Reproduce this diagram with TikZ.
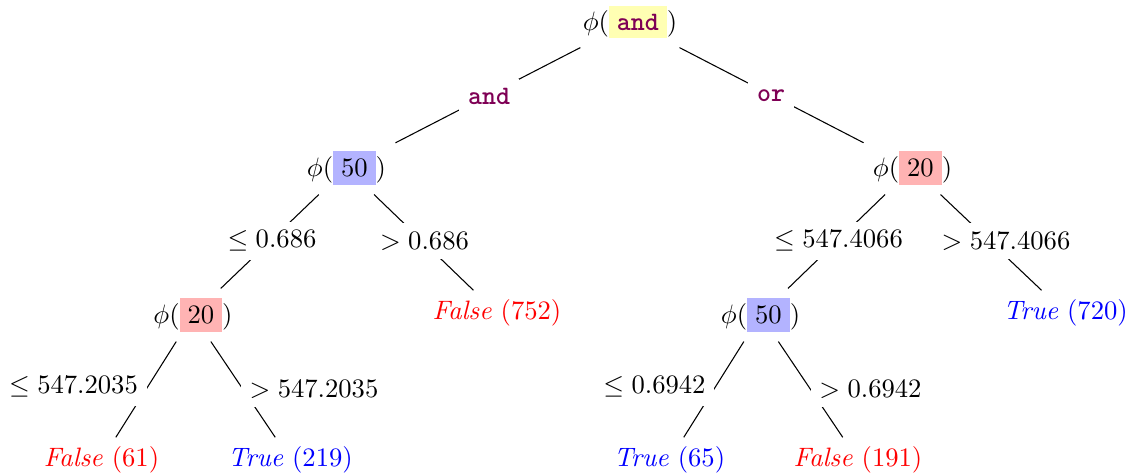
\documentclass[tikz,border=0pt]{standalone}
\definecolor{kwcol}{RGB}{127,0,85}
\definecolor{hlyellow}{RGB}{255,255,179}
\definecolor{hlblue}{RGB}{179,179,255}
\definecolor{hlred}{RGB}{255,179,179}
\newcommand{\kwd}[1]{{\color{kwcol}\ttfamily\bfseries #1}}
\newcommand{\phibox}[2]{$\phi($\colorbox{#1}{#2}$)$}
\newcommand{\leafF}[1]{{\color{red}\textit{False} (#1)}}
\newcommand{\leafT}[1]{{\color{blue}\textit{True} (#1)}}
\tikzset{
  tnode/.style={inner sep=3.33pt},
  elabel/.style={fill=white, inner sep=3.33pt},
  conn/.style={draw=black, line width=0.4pt},
}
\begin{document}
\begin{tikzpicture}[x=0.0132cm, y=-0.0132cm]
  \useasboundingbox (0,0) rectangle (1129,474);

  % decision nodes
  \node[tnode] (root) at (630,22)   {\phibox{hlyellow}{\kwd{and}}};
  \node[tnode] (l)    at (346.5,168) {\phibox{hlblue}{50}};
  \node[tnode] (r)    at (912.5,168) {\phibox{hlred}{20}};
  \node[tnode] (ll)   at (193,315)  {\phibox{hlred}{20}};
  \node[tnode] (rl)   at (760.5,315) {\phibox{hlblue}{50}};

  % leaves
  \node[tnode] (lr)   at (497,313)   {\leafF{752}};
  \node[tnode] (rr)   at (1065.5,313) {\leafT{720}};
  \node[tnode] (lll)  at (101.5,460) {\leafF{61}};
  \node[tnode] (llr)  at (290.5,460) {\leafT{219}};
  \node[tnode] (rll)  at (669.5,460) {\leafT{65}};
  \node[tnode] (rlr)  at (858,460)   {\leafF{191}};

  % branches
  \draw[conn] (root) -- (l);
  \draw[conn] (root) -- (r);
  \draw[conn] (l) -- (ll);
  \draw[conn] (l) -- (lr);
  \draw[conn] (r) -- (rl);
  \draw[conn] (r) -- (rr);
  \draw[conn] (ll) -- (lll);
  \draw[conn] (ll) -- (llr);
  \draw[conn] (rl) -- (rll);
  \draw[conn] (rl) -- (rlr);

  % branch conditions, painted over the branches
  \node[elabel] (cAnd) at (489,96)    {\kwd{and}};
  \node[elabel] (cOr)  at (771,96)    {\kwd{or}};
  \node[elabel] (cL1)  at (272,241)   {$\leq 0.686$};
  \node[elabel] (cL2)  at (424.5,241) {$> 0.686$};
  \node[elabel] (cR1)  at (838.5,241) {$\leq 547.4066$};
  \node[elabel] (cR2)  at (1006,241)  {$> 547.4066$};
  \node[elabel] (cLL1) at (73.5,387)  {$\leq 547.2035$};
  \node[elabel] (cLL2) at (314,389)   {$> 547.2035$};
  \node[elabel] (cRL1) at (654.5,387) {$\leq 0.6942$};
  \node[elabel] (cRL2) at (870.5,389) {$> 0.6942$};
\end{tikzpicture}
\end{document}
